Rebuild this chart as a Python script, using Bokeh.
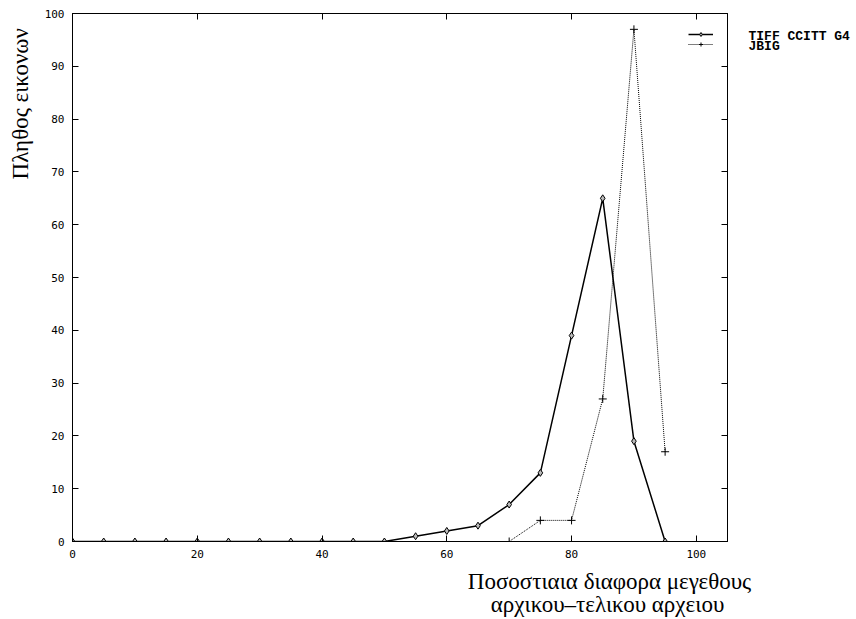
from bokeh.plotting import figure
from bokeh.layouts import row, column
from bokeh.models import (Range1d, FixedTicker, LinearAxis, Legend, LegendItem)
from bokeh.core.properties import value
from bokeh.embed import file_html
from bokeh.resources import INLINE
import math

# ---- data ----
x_tiff = [0, 5, 10, 15, 20, 25, 30, 35, 40, 45, 50, 55, 60, 65, 70, 75, 80, 85, 90, 95]
y_tiff = [0, 0, 0, 0, 0, 0, 0, 0, 0, 0, 0, 1, 2, 3, 7, 13, 39, 65, 19, 0]
x_jbig = [70, 75, 80, 85, 90, 95]
y_jbig = [0, 4, 4, 27, 97, 17]
legend_labels = ["TIFF CCITT G4", "JBIG"]
x_ticks = [0, 20, 40, 60, 80, 100]
y_ticks = [0, 10, 20, 30, 40, 50, 60, 70, 80, 90, 100]
y_title = ["Πληθος εικονων"]
x_title_lines = ["Ποσοστιαια διαφορα μεγεθους", "αρχικου–τελικου αρχειου"]

TICK_FONT = "DejaVu Sans Mono"
SERIF = "Liberation Serif"
LEG_FONT = "Liberation Mono"

TOP, BOTTOM, FH = 13, 26, 528
STRIP_H = 619 - TOP - FH - BOTTOM

def strip(width, xr, yr, height=None):
    kw = dict(width=width, output_backend="svg", toolbar_location=None,
              x_range=xr, y_range=yr, x_axis_type=None, y_axis_type=None)
    if height is None:
        kw.update(frame_height=FH, min_border_top=TOP, min_border_bottom=BOTTOM,
                  min_border_left=0, min_border_right=0)
    else:
        kw.update(height=height, min_border=0)
    f = figure(**kw)
    f.outline_line_color = None
    f.background_fill_color = "white"
    f.border_fill_color = "white"
    return f

yr = Range1d(0, 100)
p = figure(frame_width=655, frame_height=FH, output_backend="svg",
           toolbar_location=None, x_range=Range1d(0, 105), y_range=yr,
           min_border_left=36, min_border_right=4, min_border_top=TOP,
           min_border_bottom=BOTTOM)
p.background_fill_color = "white"
p.border_fill_color = "white"
p.outline_line_color = "black"
p.outline_line_width = 1
p.xgrid.visible = False
p.ygrid.visible = False

def style_axis(ax, ticks, show_labels=True):
    ax.ticker = FixedTicker(ticks=ticks)
    ax.major_tick_in = 6
    ax.major_tick_out = 0
    ax.minor_tick_line_color = None
    ax.axis_line_color = "black"
    ax.major_tick_line_color = "black"
    if show_labels:
        ax.major_label_text_font = TICK_FONT
        ax.major_label_text_font_size = "11px"
        ax.major_label_text_color = "black"
        ax.major_label_standoff = 8
    else:
        ax.major_label_overrides = {t: "" for t in ticks}
        ax.major_label_text_font_size = "1px"
        ax.major_label_standoff = 0

style_axis(p.xaxis[0], x_ticks)
style_axis(p.yaxis[0], y_ticks)
top_ax = LinearAxis()
right_ax = LinearAxis()
style_axis(top_ax, x_ticks, False)
style_axis(right_ax, y_ticks, False)
p.add_layout(top_ax, "above")
p.add_layout(right_ax, "right")

l1 = p.line(x_tiff, y_tiff, line_color="black", line_width=1.5)
s1 = p.scatter(x_tiff, y_tiff, marker="diamond", size=7, line_color="black",
               fill_color="#bbbbbb", line_width=1)
l2 = p.line(x_jbig, y_jbig, line_color="black", line_width=1, line_dash="1 1")
s2 = p.scatter(x_jbig, y_jbig, marker="cross", size=8, line_color="black", line_width=1)

# legend samples (inside the frame); their texts sit to the right of the frame
leg_samples = Legend(items=[LegendItem(label=" ", renderers=[l1, s1]),
                            LegendItem(label=" ", renderers=[l2, s2])],
                     location=(616, 492), glyph_width=25, glyph_height=10,
                     label_height=10, label_standoff=0, label_width=0,
                     padding=0, margin=0, spacing=0,
                     border_line_color=None, background_fill_alpha=0,
                     label_text_font_size="8px")
p.add_layout(leg_samples)

# left strip: y-axis title
p0 = strip(36, Range1d(0, 36), yr)
p0.text(x=[19.5], y=[82.9], text=y_title, angle=math.pi / 2, text_align="center",
        text_baseline="alphabetic", text_font=value(SERIF), text_font_size="23px",
        text_color="black")

# right strip: legend texts
p2 = strip(125, Range1d(0, 125), yr)
p2.text(x=[17, 17], y=[95.6, 93.7], text=legend_labels, text_baseline="middle",
        text_align="left", text_font=value(LEG_FONT), text_font_style="bold",
        text_font_size="13px", text_color="black")

# bottom strip: x-axis title
p3 = strip(856, Range1d(0, 856), Range1d(0, STRIP_H), height=STRIP_H)
p3.text(x=[609, 607], y=[38.3, 15], text=x_title_lines, text_baseline="alphabetic",
        text_align="center", text_font=value(SERIF), text_font_size="23px",
        text_color="black")

layout = column(row(p0, p, p2, spacing=0), p3, spacing=0)
open("out.html", "w").write(file_html(layout, INLINE))
